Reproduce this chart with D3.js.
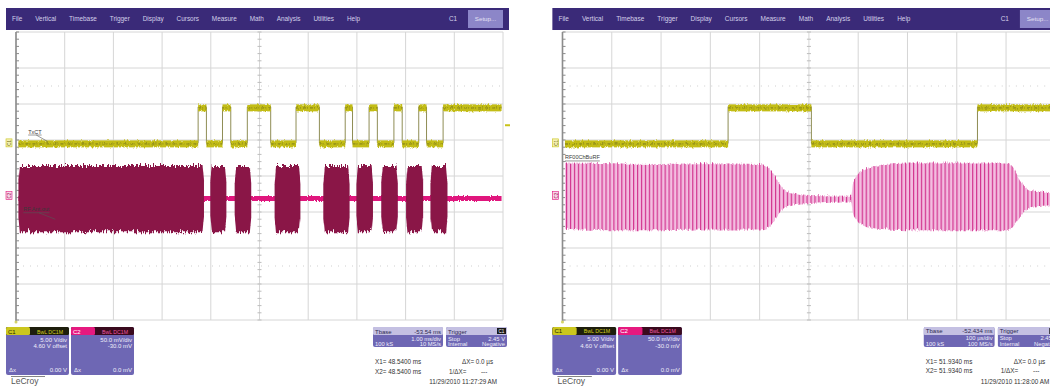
<!DOCTYPE html>
<html><head><meta charset="utf-8">
<script src="https://cdn.jsdelivr.net/npm/d3@7"></script>
<style>
html,body{margin:0;padding:0;background:#fff;}
svg{display:block;font-family:"Liberation Sans",Arial,sans-serif;}
</style></head><body>
<svg id="c" width="1050" height="389"></svg>
<script>
// ---------------- data ----------------
const menuItems = ["File","Vertical","Timebase","Trigger","Display","Cursors","Measure","Math","Analysis","Utilities","Help"];

// Screen 1 : 1.00 ms/div, time in ms from the left graticule edge
const s1TxTimes = [0.05, 3.74, 3.91, 4.24, 4.41, 4.75, 5.23, 5.75, 6.23, 6.76, 6.91, 7.25, 7.42, 7.76, 7.93, 8.27, 8.43, 8.77, 9.97];
const s1TxVolts = [0, 5, 0, 5, 0, 5, 0, 5, 0, 5, 0, 5, 0, 5, 0, 5, 0, 5, 5];
const s1BurstStart = [0.05, 3.99, 4.49, 5.31, 6.31, 6.99, 7.50, 8.01, 8.51];
const s1BurstEnd   = [3.86, 4.32, 4.83, 5.84, 6.85, 7.33, 7.84, 8.36, 8.86];
const s1BurstPeak = 48;     // mV
const s1BurstTrough = -44;  // mV
const s1IdleSpan = [0.05, 9.97];

// Screen 2 : 100 us/div, time in us from the left graticule edge
const s2TxTimes = [5, 336, 505, 842, 1010];
const s2TxVolts = [0, 5, 0, 5, 5];
const s2EnvTimes = [5, 100, 200, 300, 400, 418, 428, 440, 452, 470, 500, 586, 589, 596, 610, 640, 700, 800, 900, 914, 925, 937, 950, 975, 1010];
const s2EnvHi    = [50, 49, 48, 49, 48, 44, 35, 22, 12, 8, 5, 4, 20, 32, 40, 46, 50, 50, 50, 44, 30, 18, 12, 10, 8];
const s2EnvLo    = [-42, -44, -44, -43, -43, -40, -32, -20, -12, -8, -6, -4, -18, -28, -36, -42, -44, -44, -44, -38, -28, -18, -12, -10, -8];
const s2CarrierPeriodUs = 8;

// Channel settings
const c1VoltsPerDiv = 5.00, c1Offset = 4.60, trigLevel = 2.45;
const c2mVPerDiv = 50.0, c2Offset = -30.0;

const screens = [
  {tx: 0, sx: 1, tdiv: 1.0,
   tx_t: s1TxTimes, tx_v: s1TxVolts,
   tbase: "-53.54 ms", tdivLabel: "1.00 ms/div", rate: "10 MS/s",
   x1: "X1= 48.5400 ms", x2: "X2= 48.5400 ms", date: "11/29/2010 11:27:29 AM",
   labels: [{text: "TxCT", div: 0.25, v: 1.3, ch: 1}, {text: "RF Ant.out", div: 0.15, v: -19, ch: 2}]},
  {tx: 546.3, sx: 1.012, tdiv: 100,
   tx_t: s2TxTimes, tx_v: s2TxVolts,
   tbase: "-52.434 ms", tdivLabel: "100 \u00b5s/div", rate: "100 MS/s",
   x1: "X1= 51.9340 ms", x2: "X2= 51.9340 ms", date: "11/29/2010 11:28:00 AM",
   labels: [{text: "RF00ChBuRF", div: 0.05, v: 53, ch: 2}]}
];

// ---------------- drawing ----------------
const svg = d3.select("#c");
const defs = svg.append("defs");

// vertical-only roughening of trace edges
function roughFilter(id, fx, fy, scale, seed) {
  const f = defs.append("filter").attr("id", id)
    .attr("filterUnits", "userSpaceOnUse").attr("x", -20).attr("y", 0).attr("width", 560).attr("height", 389);
  f.append("feTurbulence").attr("type", "turbulence").attr("baseFrequency", `${fx} ${fy}`)
    .attr("numOctaves", 1).attr("seed", seed).attr("result", "n0");
  f.append("feColorMatrix").attr("in", "n0").attr("type", "matrix")
    .attr("values", "0 0 0 0 0.5  0 1 0 0 0  0 0 1 0 0  0 0 0 0 1").attr("result", "n");
  f.append("feDisplacementMap").attr("in", "SourceGraphic").attr("in2", "n").attr("scale", scale)
    .attr("xChannelSelector", "R").attr("yChannelSelector", "G");
}
roughFilter("roughBurst", 0.6, 0.02, 9, 3);
roughFilter("roughTrace", 0.7, 0.2, 3, 7);
roughFilter("roughEnv", 0.5, 0.05, 4, 11);

const PX0 = 16, PX1 = 503, PY0 = 32, PY1 = 320;
const txt = (g, x, y, s, o = {}) => g.append("text").attr("x", x).attr("y", y)
  .attr("font-size", o.size || 6).attr("fill", o.fill || "#fff").attr("text-anchor", o.anchor || "start")
  .attr("font-weight", o.weight || "normal").text(s);

screens.forEach((sc, si) => {
  const g = svg.append("g").attr("transform", `translate(${sc.tx},0) scale(${sc.sx},1)`);
  const x = d3.scaleLinear().domain([0, 10 * sc.tdiv]).range([PX0, PX1]);
  const y1 = d3.scaleLinear().domain([-c1Offset - 4 * c1VoltsPerDiv, -c1Offset + 4 * c1VoltsPerDiv]).range([PY1, PY0]);
  const y2 = d3.scaleLinear().domain([-c2Offset - 4 * c2mVPerDiv, -c2Offset + 4 * c2mVPerDiv]).range([PY1, PY0]);

  // ---- menu bar ----
  g.append("rect").attr("x", 6).attr("y", 8).attr("width", 503).attr("height", 22).attr("fill", "#3a2a78");
  let mx = 12;
  menuItems.forEach(m => {
    const t = txt(g, mx, 21, m, {size: 6.4, fill: "#d4d0ea"});
    mx += t.node().getComputedTextLength() + 12.9;
  });
  txt(g, 449, 21, "C1", {size: 6.4, fill: "#d4d0ea"});
  g.append("rect").attr("x", 468).attr("y", 10).attr("width", 35).attr("height", 18).attr("fill", "#8c86c8");
  txt(g, 485.5, 21, "Setup...", {size: 6.2, fill: "#e4e2f4", anchor: "middle"});

  // ---- graticule ----
  const grid = g.append("g");
  d3.range(11).forEach(i => {
    grid.append("line").attr("x1", x(i * sc.tdiv)).attr("x2", x(i * sc.tdiv)).attr("y1", PY0).attr("y2", PY1)
      .attr("stroke", "#d6d6d6").attr("stroke-width", 1);
  });
  d3.range(9).forEach(i => {
    const yy = PY0 + i * (PY1 - PY0) / 8;
    grid.append("line").attr("x1", PX0).attr("x2", PX1).attr("y1", yy).attr("y2", yy)
      .attr("stroke", "#d6d6d6").attr("stroke-width", 1);
  });
  [PY0 + 1.5 * 36, PY0 + 6.5 * 36].forEach(yy => {
    grid.append("line").attr("x1", PX0).attr("x2", PX1).attr("y1", yy).attr("y2", yy)
      .attr("stroke", "#cfcfcf").attr("stroke-dasharray", "1,6");
  });
  // minor ticks on centre and left axes
  const cx = x(5 * sc.tdiv);
  d3.range(0, 41).forEach(i => {
    const yy = PY0 + i * 7.2;
    grid.append("line").attr("x1", cx - 2).attr("x2", cx + 2).attr("y1", yy).attr("y2", yy).attr("stroke", "#bdbdbd");
    grid.append("line").attr("x1", PX0).attr("x2", PX0 + 3).attr("y1", yy).attr("y2", yy).attr("stroke", "#8a8a8a");
  });
  grid.append("line").attr("x1", PX0).attr("x2", PX0).attr("y1", PY0).attr("y2", PY1 + 1)
    .attr("stroke", "#8c8c8c").attr("stroke-width", 1.6);
  grid.append("circle").attr("cx", PX0).attr("cy", PY1 + 2).attr("r", 1.5).attr("fill", "#d4d26a");

  // ---- channel 2 (RF) ----
  const c2 = g.append("g");
  if (si === 0) {
    c2.append("line").attr("x1", x(s1IdleSpan[0])).attr("x2", x(s1IdleSpan[1]))
      .attr("y1", y2(0)).attr("y2", y2(0)).attr("stroke", "#e0157d").attr("stroke-width", 5)
      .attr("filter", "url(#roughTrace)");
    const ramp = 0.03;
    const area = d3.area().x(d => x(d[0])).y0(d => y2(d[2])).y1(d => y2(d[1]));
    const bursts = s1BurstStart.map((s, i) => [
      [s, s1BurstPeak * 0.5, s1BurstTrough * 0.5],
      [s + ramp, s1BurstPeak, s1BurstTrough],
      [s1BurstEnd[i] - ramp, s1BurstPeak, s1BurstTrough],
      [s1BurstEnd[i], s1BurstPeak * 0.5, s1BurstTrough * 0.5]]);
    c2.selectAll("path.burst").data(bursts).join("path").attr("class", "burst")
      .attr("d", area).attr("fill", "#8a1347").attr("filter", "url(#roughBurst)");
  } else {
    const per = x(s2CarrierPeriodUs) - x(0);
    const pat = defs.append("pattern").attr("id", "carrier").attr("patternUnits", "userSpaceOnUse")
      .attr("width", per).attr("height", 400);
    pat.append("rect").attr("width", per).attr("height", 400).attr("fill", "#f3bde0");
    pat.append("rect").attr("width", 1.2).attr("height", 400).attr("fill", "#d2348f");
    const env = s2EnvTimes.map((t, i) => [t, s2EnvHi[i], s2EnvLo[i]]);
    const area = d3.area().x(d => x(d[0])).y0(d => y2(d[2])).y1(d => y2(d[1])).curve(d3.curveMonotoneX);
    c2.append("path").datum(env).attr("d", area).attr("fill", "url(#carrier)").attr("filter", "url(#roughEnv)");
  }

  // ---- channel 1 (TxCT) ----
  const c1 = g.append("g");
  const steps = sc.tx_t.slice(0, -1).map((t, i) => ({t0: t, t1: sc.tx_t[i + 1], v: sc.tx_v[i]}));
  const stepLine = d3.line().x(d => x(d[0])).y(d => y1(d[1])).curve(d3.curveStepAfter);
  c1.append("path").datum(sc.tx_t.map((t, i) => [t, sc.tx_v[i]])).attr("d", stepLine)
    .attr("fill", "none").attr("stroke", "#8f8d55").attr("stroke-width", 1);
  c1.selectAll("rect.lvl").data(steps).join("rect").attr("class", "lvl")
    .attr("x", d => x(d.t0)).attr("width", d => x(d.t1) - x(d.t0))
    .attr("y", d => y1(d.v) - 3.5).attr("height", 7).attr("fill", "#c3bd14")
    .attr("filter", "url(#roughTrace)");
  c1.selectAll("line.core").data(steps).join("line").attr("class", "core")
    .attr("x1", d => x(d.t0)).attr("x2", d => x(d.t1)).attr("y1", d => y1(d.v)).attr("y2", d => y1(d.v))
    .attr("stroke", "#8d8a1c").attr("stroke-width", 1.3).attr("stroke-dasharray", "3,1,1,2")
    .attr("filter", "url(#roughTrace)");

  // trigger level marker
  if (si === 0) {
    g.append("line").attr("x1", PX1 + 2).attr("x2", PX1 + 7).attr("y1", y1(trigLevel)).attr("y2", y1(trigLevel))
      .attr("stroke", "#c9c31a").attr("stroke-width", 2);
  }
  // channel markers at the left edge
  const m1 = g.append("g").attr("transform", `translate(${PX0 - 6},${y1(0)}) rotate(-90)`);
  m1.append("rect").attr("x", -4).attr("y", -4).attr("width", 8).attr("height", 6).attr("fill", "#f3f0b0").attr("stroke", "#c9c31a").attr("stroke-width", 0.6);
  txt(m1, 0, 1.3, "C1", {size: 4.5, fill: "#6a6810", anchor: "middle"});
  const m2 = g.append("g").attr("transform", `translate(${PX0 - 6},${y2(0) - 2}) rotate(-90)`);
  m2.append("rect").attr("x", -4).attr("y", -4).attr("width", 8).attr("height", 6).attr("fill", "#f8d6ea").attr("stroke", "#e0157d").attr("stroke-width", 0.6);
  txt(m2, 0, 1.3, "C2", {size: 4.5, fill: "#a0104f", anchor: "middle"});

  // trace labels
  sc.labels.forEach(l => {
    const lx = x(l.div * sc.tdiv);
    const yy = (l.ch === 1 ? y1(l.v) : y2(l.v));
    const t = txt(g, lx, yy, l.text, {size: 5.5, fill: "#3a3a3a"});
    const w = t.node().getComputedTextLength();
    g.append("line").attr("x1", lx).attr("x2", lx + w)
      .attr("y1", yy + 1.5).attr("y2", yy + 1.5).attr("stroke", "#555").attr("stroke-width", 0.6);
    if (si === 0) {
      g.append("line").attr("x1", lx + w * 0.6).attr("x2", lx + w + 6)
        .attr("y1", yy + 1.5).attr("y2", yy + 8).attr("stroke", "#555").attr("stroke-width", 0.6);
    }
  });

  // ---- channel descriptor boxes ----
  const chBox = (bx, hdrCol, darkCol, name, nameCol, tagCol, l1, l2, dval) => {
    const b = g.append("g");
    b.append("rect").attr("x", bx).attr("y", 327).attr("width", 63).attr("height", 48).attr("rx", 2).attr("fill", "#6e67b4");
    b.append("rect").attr("x", bx).attr("y", 327).attr("width", 63).attr("height", 8).attr("rx", 1.5).attr("fill", darkCol);
    b.append("rect").attr("x", bx).attr("y", 327).attr("width", 24).attr("height", 8).attr("rx", 1.5).attr("fill", hdrCol);
    txt(b, bx + 2, 333.5, name, {size: 6, fill: nameCol});
    txt(b, bx + 44, 333.5, "BwL DC1M", {size: 5.2, fill: tagCol, anchor: "middle"});
    txt(b, bx + 61, 341.5, l1, {size: 6, fill: "#eeeefa", anchor: "end"});
    txt(b, bx + 61, 348, l2, {size: 6, fill: "#eeeefa", anchor: "end"});
    txt(b, bx + 3, 372, "\u0394x", {size: 6, fill: "#eeeefa"});
    txt(b, bx + 61, 372, dval, {size: 6, fill: "#eeeefa", anchor: "end"});
  };
  chBox(6, "#cbc61e", "#1e1e0c", "C1", "#2a2a00", "#d6d020", "5.00 V/div", "4.60 V offset", "0.00 V");
  chBox(71, "#e6197f", "#3a0a1e", "C2", "#ffffff", "#ee5aa6", "50.0 mV/div", "-30.0 mV", "0.0 mV");

  // ---- timebase & trigger boxes ----
  const tb = g.append("g");
  tb.append("rect").attr("x", 373).attr("y", 327).attr("width", 70).attr("height", 20).attr("rx", 2).attr("fill", "#6e67b4");
  tb.append("rect").attr("x", 373).attr("y", 327).attr("width", 70).attr("height", 8).attr("rx", 1.5).attr("fill", "#c4c0e2");
  txt(tb, 375, 333.5, "Tbase", {size: 6, fill: "#2e2a50"});
  txt(tb, 441, 333.5, sc.tbase, {size: 6, fill: "#2e2a50", anchor: "end"});
  txt(tb, 441, 340.5, sc.tdivLabel, {size: 5.8, fill: "#eeeefa", anchor: "end"});
  txt(tb, 375, 345.8, "100 kS", {size: 5.8, fill: "#eeeefa"});
  txt(tb, 441, 345.8, sc.rate, {size: 5.8, fill: "#eeeefa", anchor: "end"});

  const clipId = "trigClip" + si;
  defs.append("clipPath").attr("id", clipId).append("rect").attr("x", 446).attr("y", 327).attr("width", 61).attr("height", 20).attr("rx", 2);
  const tr = g.append("g").attr("clip-path", `url(#${clipId})`);
  tr.append("rect").attr("x", 446).attr("y", 327).attr("width", 61).attr("height", 20).attr("fill", "#6e67b4");
  tr.append("rect").attr("x", 446).attr("y", 327).attr("width", 61).attr("height", 8).attr("fill", "#c4c0e2");
  tr.append("rect").attr("x", 497).attr("y", 328).attr("width", 9).attr("height", 6).attr("fill", "#1a1a1a");
  txt(tr, 501.5, 333, "C1", {size: 4.5, fill: "#fff", anchor: "middle"});
  txt(tr, 448, 333.5, "Trigger", {size: 6, fill: "#2e2a50"});
  txt(tr, 448, 340.5, "Stop", {size: 5.8, fill: "#eeeefa"});
  txt(tr, 505, 340.5, "2.45 V", {size: 5.8, fill: "#eeeefa", anchor: "end"});
  txt(tr, 448, 345.8, "Internal", {size: 5.8, fill: "#eeeefa"});
  txt(tr, 482, 345.8, "Negative", {size: 5.8, fill: "#eeeefa"});

  // cursor readouts
  txt(g, 375, 364, sc.x1, {size: 6.3, fill: "#333"});
  txt(g, 462, 364, "\u0394X= 0.0 \u00b5s", {size: 6.3, fill: "#333"});
  txt(g, 375, 373.5, sc.x2, {size: 6.3, fill: "#333"});
  txt(g, 449, 373.5, "1/\u0394X=", {size: 6.3, fill: "#333"});
  txt(g, 481, 373.5, "---", {size: 6.3, fill: "#333"});
  txt(g, 497, 384, sc.date, {size: 6.3, fill: "#333", anchor: "end"});

  // brand
  txt(g, 11, 384, "LeCroy", {size: 8.5, fill: "#555"});
  g.append("line").attr("x1", 11).attr("x2", 45).attr("y1", 376.5).attr("y2", 376.5).attr("stroke", "#666").attr("stroke-width", 0.8);
});
</script>
</body></html>
